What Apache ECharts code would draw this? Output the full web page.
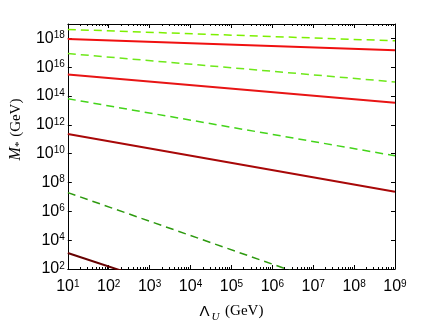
<!DOCTYPE html>
<html>
<head>
<meta charset="utf-8">
<script src="https://cdn.jsdelivr.net/npm/echarts@6/dist/echarts.min.js"></script>
<style>
html, body { margin: 0; background: #fff; }
#chart { width: 436px; height: 328px; }
</style>
</head>
<body>
<div id="chart"></div>
<script>
// x values (Lambda_U, GeV) shared by every line
const lambdaU = [1e1, 1e9]

// M_* (GeV) read at the two ends of each line
const greenA = [4.2e18, 6.8e17]
const redA = [9.1e17, 1.5e17]
const greenB = [8.9e16, 9.5e14]
const redB = [3.1e15, 3.4e13]
const greenC = [6.5e13, 7.2e9]
const redC = [2.3e11, 2.3e7]
const greenD = [2.0e7, 0.23]
const redD = [1.3e3, 3.9e-5]

const xExps = [1, 2, 3, 4, 5, 6, 7, 8, 9]
const yExps = [2, 4, 6, 8, 10, 12, 14, 16, 18]

// minor ticks at 2..9 x 10^d
const xMinor = []
for (let d = 1; d < 9; d++) {
    for (let m = 2; m <= 9; m++) xMinor.push(m * Math.pow(10, d))
}

const pairs = arr => lambdaU.map((x, i) => [x, arr[i]])

const powLabel = v => {
    const e = Math.round(Math.log10(v))
    return '{b|10}{s|' + e + '}'
}
const labelRich = {
    b: { fontSize: 16, fontFamily: 'Liberation Sans', color: '#000', verticalAlign: 'bottom' },
    s: { fontSize: 10, fontFamily: 'Liberation Sans', color: '#000', verticalAlign: 'top' },
}

const axisLine = { show: true, onZero: false, lineStyle: { color: '#000', width: 1 } }

const mkLine = (name, arr, color, width, dashed) => ({
    name: name,
    type: 'line',
    data: pairs(arr),
    xAxisIndex: 0,
    yAxisIndex: 0,
    symbol: 'none',
    clip: true,
    lineStyle: { color: color, width: width, type: dashed ? [8, 5] : 'solid' },
    z: 3,
})

const chart = echarts.init(document.getElementById('chart'), null, { renderer: 'canvas' })

chart.setOption({
    animation: false,
    backgroundColor: '#fff',
    grid: { left: 58, right: 41, top: 24, bottom: 47 },
    xAxis: [
        {
            type: 'log', logBase: 10, min: 1e1, max: 1e9, position: 'bottom',
            axisLine: axisLine,
            axisTick: { show: true, inside: true, length: 4, lineStyle: { color: '#000' },
                customValues: xExps.map(e => Math.pow(10, e)) },
            axisLabel: { show: true, margin: 10, formatter: powLabel, rich: labelRich,
                customValues: xExps.map(e => Math.pow(10, e)) },
            splitLine: { show: false },
            name: '{g|Λ}{u|U}{n| (GeV)}',
            nameLocation: 'middle',
            nameGap: 31,
            nameTextStyle: {
                rich: {
                    g: { fontSize: 15, fontFamily: 'Liberation Sans', color: '#000' },
                    u: { fontSize: 11, fontFamily: 'Liberation Serif', fontStyle: 'italic', color: '#000', padding: [12, 2, 0, 2] },
                    n: { fontSize: 15, fontFamily: 'Liberation Serif', color: '#000' },
                },
            },
        },
        {
            type: 'log', logBase: 10, min: 1e1, max: 1e9, position: 'top',
            axisLine: axisLine,
            axisTick: { show: true, inside: true, length: 4, lineStyle: { color: '#000' },
                customValues: xExps.map(e => Math.pow(10, e)) },
            axisLabel: { show: false },
            splitLine: { show: false },
        },
        {
            type: 'log', logBase: 10, min: 1e1, max: 1e9, position: 'bottom',
            axisLine: { show: false },
            axisTick: { show: true, inside: true, length: 2, lineStyle: { color: '#000' }, customValues: xMinor },
            axisLabel: { show: false },
            splitLine: { show: false },
        },
        {
            type: 'log', logBase: 10, min: 1e1, max: 1e9, position: 'top',
            axisLine: { show: false },
            axisTick: { show: true, inside: true, length: 2, lineStyle: { color: '#000' }, customValues: xMinor },
            axisLabel: { show: false },
            splitLine: { show: false },
        },
    ],
    yAxis: [
        {
            type: 'log', logBase: 10, min: 1e2, max: 1e19, position: 'left',
            axisLine: axisLine,
            axisTick: { show: true, inside: true, length: 4, lineStyle: { color: '#000' },
                customValues: yExps.map(e => Math.pow(10, e)) },
            axisLabel: { show: true, margin: 3, formatter: powLabel, rich: labelRich,
                customValues: yExps.map(e => Math.pow(10, e)) },
            splitLine: { show: false },
            name: '{m|M}{st|*}{n| (GeV)}',
            nameLocation: 'middle',
            nameGap: 36,
            nameTextStyle: {
                padding: [0, 0, 0, 34],
                rich: {
                    m: { fontSize: 16, fontFamily: 'Liberation Serif', fontStyle: 'italic', color: '#000' },
                    st: { fontSize: 11, fontFamily: 'Liberation Serif', color: '#000', padding: [7, 1, 0, 0] },
                    n: { fontSize: 15, fontFamily: 'Liberation Serif', color: '#000' },
                },
            },
        },
        {
            type: 'log', logBase: 10, min: 1e2, max: 1e19, position: 'right',
            axisLine: axisLine,
            axisTick: { show: true, inside: true, length: 4, lineStyle: { color: '#000' },
                customValues: yExps.map(e => Math.pow(10, e)) },
            axisLabel: { show: false },
            splitLine: { show: false },
        },
    ],
    series: [
        mkLine('greenA', greenA, '#7cf000', 1.5, true),
        mkLine('redA', redA, '#f01010', 2, false),
        mkLine('greenB', greenB, '#6ee81a', 1.5, true),
        mkLine('redB', redB, '#e81515', 2, false),
        mkLine('greenC', greenC, '#44d41a', 1.5, true),
        mkLine('redC', redC, '#a80808', 2, false),
        mkLine('greenD', greenD, '#2e9a10', 1.5, true),
        mkLine('redD', redD, '#660000', 2, false),
    ],
})
</script>
</body>
</html>
